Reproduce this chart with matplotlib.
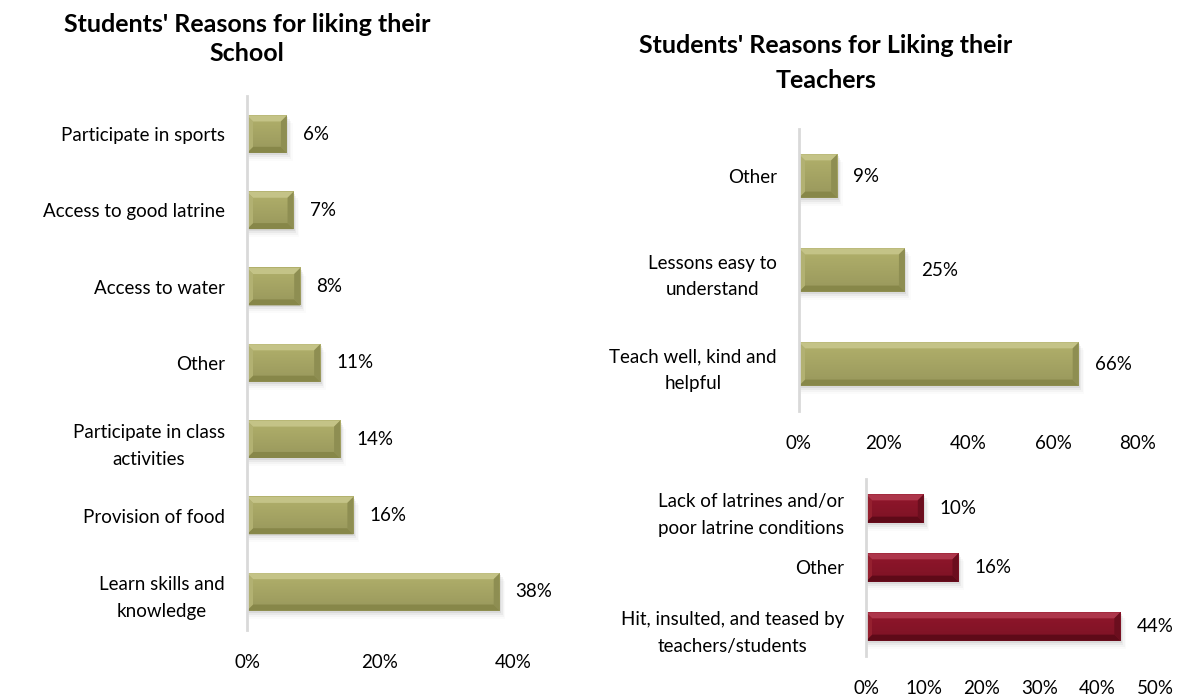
import numpy as np
import matplotlib
matplotlib.use("Agg")
import matplotlib.pyplot as plt
from matplotlib.patches import Polygon, Rectangle

plt.rcParams['font.family'] = ['Lato', 'DejaVu Sans']

# ---------------------------------------------------------------------
# Data (listed top to bottom as shown)
# ---------------------------------------------------------------------
school_labels = ["Participate in sports", "Access to good latrine", "Access to water",
                 "Other", "Participate in class\nactivities", "Provision of food",
                 "Learn skills and\nknowledge"]
school_values = [6, 7, 8, 11, 14, 16, 38]

teacher_labels = ["Other", "Lessons easy to\nunderstand", "Teach well, kind and\nhelpful"]
teacher_values = [9, 25, 66]

dislike_labels = ["Lack of latrines and/or\npoor latrine conditions", "Other",
                  "Hit, insulted, and teased by\nteachers/students"]
dislike_values = [10, 16, 44]

OLIVE = dict(face="#A9A866", light="#C4C387", dark="#878749", left="#B2B172", right="#8E8E52")
MAROON = dict(face="#8A1529", light="#AD364B", dark="#5E0A18", left="#95202F", right="#6B0E1E")

FIG_W, FIG_H, DPI = 11.79, 6.98, 100
TEXT_SIZE = 13.5


def px_to_data(ax, xmax, n):
    bb = ax.get_position()
    wpx = bb.width * FIG_W * DPI
    hpx = bb.height * FIG_H * DPI
    return xmax / wpx, n / hpx


def bevel_bar(ax, y, w, h, pal, dx, dy, bevel=6):
    bot, top = y - h / 2, y + h / 2
    bx, by = bevel * dx, bevel * dy
    bx = min(bx, w / 2)
    # soft shadow under the bar
    for k, a in zip([2, 4, 6, 8], [0.14, 0.09, 0.05, 0.03]):
        ax.add_patch(Rectangle((k * dx * 0.3, bot - k * dy), w + k * dx * 0.4, h,
                               color="#808080", alpha=a, lw=0, zorder=1))
    # face with a slight vertical gradient
    grad = np.linspace(1.0, 0.0, 50).reshape(-1, 1)
    base = np.array(matplotlib.colors.to_rgb(pal["face"]))
    c_top = np.clip(base * 1.05, 0, 1)
    c_bot = base * 0.9
    img = grad[..., None] * c_top + (1 - grad[..., None]) * c_bot
    ax.imshow(img, extent=(0, w, bot, top), aspect="auto", origin="upper", zorder=2)
    ax.add_patch(Polygon([(0, top), (w, top), (w - bx, top - by), (bx, top - by)],
                         color=pal["light"], lw=0, zorder=3))
    ax.add_patch(Polygon([(0, bot), (w, bot), (w - bx, bot + by), (bx, bot + by)],
                         color=pal["dark"], lw=0, zorder=3))
    ax.add_patch(Polygon([(0, bot), (0, top), (bx, top - by), (bx, bot + by)],
                         color=pal["left"], lw=0, zorder=3))
    ax.add_patch(Polygon([(w, bot), (w, top), (w - bx, top - by), (w - bx, bot + by)],
                         color=pal["right"], lw=0, zorder=3))


def draw_panel(ax, labels, values, xmax, step, pal, height):
    n = len(values)
    ys = [n - 1 - i for i in range(n)]
    ax.set_xlim(0, xmax)
    ax.set_ylim(-0.5, n - 0.5)
    dx, dy = px_to_data(ax, xmax, n)
    for y, v in zip(ys, values):
        bevel_bar(ax, y, v, height, pal, dx, dy)
        ax.text(v + 16 * dx, y, f"{v}%", va="center", ha="left", fontsize=TEXT_SIZE)
    ax.set_xlim(0, xmax)
    ax.set_ylim(-0.5, n - 0.5)
    ax.set_yticks(ys)
    ax.set_yticklabels(labels, fontsize=TEXT_SIZE, multialignment="center",
                       linespacing=1.7)
    ticks = np.arange(0, xmax + 0.01, step)
    ax.set_xticks(ticks)
    ax.set_xticklabels([f"{int(t)}%" for t in ticks], fontsize=TEXT_SIZE)
    ax.tick_params(axis="both", length=0)
    ax.tick_params(axis="y", pad=16)
    ax.tick_params(axis="x", pad=17)
    for s in ["top", "right", "bottom"]:
        ax.spines[s].set_visible(False)
    ax.spines["left"].set_color("#D9D9D9")
    ax.spines["left"].set_linewidth(2)
    ax.spines["left"].set_zorder(5)


fig = plt.figure(figsize=(FIG_W, FIG_H), dpi=DPI)

ax1 = fig.add_axes([247 / 1179, 1 - 630 / 698, 266 / 1179, 534 / 698])
draw_panel(ax1, school_labels, school_values, 40, 20, OLIVE, 0.49)

ax2 = fig.add_axes([799 / 1179, 1 - 411 / 698, 339 / 1179, 282 / 698])
draw_panel(ax2, teacher_labels, teacher_values, 80, 20, OLIVE, 0.46)

ax3 = fig.add_axes([866 / 1179, 1 - 656 / 698, 289 / 1179, 177 / 698])
draw_panel(ax3, dislike_labels, dislike_values, 50, 10, MAROON, 0.48)

fig.text(247 / 1179, 1 - 39 / 698, "Students' Reasons for liking their\nSchool",
         ha="center", va="center", fontsize=18, fontweight="bold", linespacing=1.3)
fig.text(826 / 1179, 1 - 63 / 698, "Students' Reasons for Liking their\nTeachers",
         ha="center", va="center", fontsize=18, fontweight="bold", linespacing=1.65)

fig.savefig("out.png", dpi=DPI)
